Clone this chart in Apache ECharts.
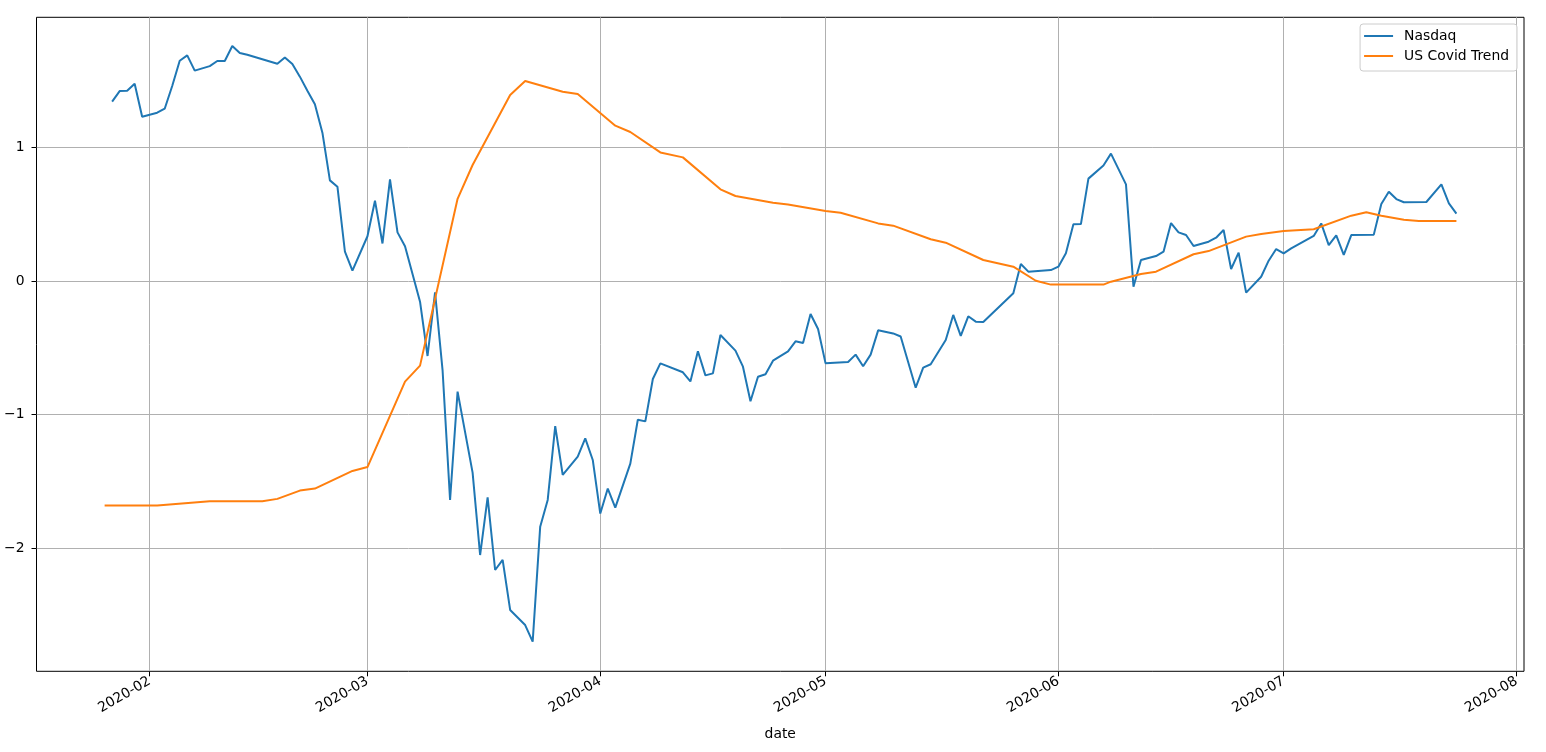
<!DOCTYPE html>
<html>
<head>
<meta charset="utf-8">
<title>Nasdaq vs US Covid Trend</title>
<script src="https://cdn.jsdelivr.net/npm/echarts@6/dist/echarts.min.js"></script>
<style>
  html, body { margin: 0; padding: 0; background: #fff; }
  #chart { width: 1546px; height: 752px; }
</style>
</head>
<body>
<div id="chart"></div>
<script>
// normalised Nasdaq close
var nasdaqDates = [
  '2020-01-27','2020-01-28','2020-01-29','2020-01-30','2020-01-31','2020-02-02','2020-02-03','2020-02-04',
  '2020-02-05','2020-02-06','2020-02-07','2020-02-08','2020-02-09','2020-02-10','2020-02-11','2020-02-12',
  '2020-02-13','2020-02-14','2020-02-18','2020-02-19','2020-02-20','2020-02-21','2020-02-22','2020-02-23',
  '2020-02-24','2020-02-25','2020-02-26','2020-02-27','2020-02-28','2020-03-01','2020-03-02','2020-03-03',
  '2020-03-04','2020-03-05','2020-03-06','2020-03-08','2020-03-09','2020-03-10','2020-03-11','2020-03-12',
  '2020-03-13','2020-03-15','2020-03-16','2020-03-17','2020-03-18','2020-03-19','2020-03-20','2020-03-22',
  '2020-03-23','2020-03-24','2020-03-25','2020-03-26','2020-03-27','2020-03-29','2020-03-30','2020-03-31',
  '2020-04-01','2020-04-02','2020-04-03','2020-04-05','2020-04-06','2020-04-07','2020-04-08','2020-04-09',
  '2020-04-12','2020-04-13','2020-04-14','2020-04-15','2020-04-16','2020-04-17','2020-04-19','2020-04-20',
  '2020-04-21','2020-04-22','2020-04-23','2020-04-24','2020-04-26','2020-04-27','2020-04-28','2020-04-29',
  '2020-04-30','2020-05-01','2020-05-04','2020-05-05','2020-05-06','2020-05-07','2020-05-08','2020-05-10',
  '2020-05-11','2020-05-13','2020-05-14','2020-05-15','2020-05-17','2020-05-18','2020-05-19','2020-05-20',
  '2020-05-21','2020-05-22','2020-05-26','2020-05-27','2020-05-28','2020-05-31','2020-06-01','2020-06-02',
  '2020-06-03','2020-06-04','2020-06-05','2020-06-07','2020-06-08','2020-06-10','2020-06-11','2020-06-12',
  '2020-06-14','2020-06-15','2020-06-16','2020-06-17','2020-06-18','2020-06-19','2020-06-21','2020-06-22',
  '2020-06-23','2020-06-24','2020-06-25','2020-06-26','2020-06-28','2020-06-29','2020-06-30','2020-07-01',
  '2020-07-02','2020-07-05','2020-07-06','2020-07-07','2020-07-08','2020-07-09','2020-07-10','2020-07-13',
  '2020-07-14','2020-07-15','2020-07-16','2020-07-17','2020-07-20','2020-07-22','2020-07-23','2020-07-24'
];
var nasdaqValues = [
  1.342, 1.421, 1.424, 1.476, 1.229, 1.259, 1.289, 1.459,
  1.648, 1.688, 1.574, 1.591, 1.608, 1.646, 1.646, 1.758,
  1.706, 1.693, 1.626, 1.673, 1.623, 1.529, 1.424, 1.322,
  1.110, 0.753, 0.706, 0.219, 0.077, 0.335, 0.601, 0.281,
  0.760, 0.364, 0.260, -0.155, -0.561, -0.085, -0.666, -1.638,
  -0.828, -1.434, -2.050, -1.618, -2.162, -2.087, -2.461, -2.574,
  -2.698, -1.838, -1.638, -1.085, -1.451, -1.314, -1.177, -1.339,
  -1.740, -1.553, -1.695, -1.366, -1.038, -1.050, -0.733, -0.616,
  -0.683, -0.751, -0.526, -0.706, -0.691, -0.404, -0.521, -0.641,
  -0.900, -0.716, -0.698, -0.596, -0.526, -0.451, -0.464, -0.247,
  -0.359, -0.616, -0.606, -0.551, -0.638, -0.551, -0.369, -0.392,
  -0.415, -0.798, -0.648, -0.623, -0.441, -0.254, -0.411, -0.264,
  -0.304, -0.307, -0.092, 0.127, 0.070, 0.082, 0.107, 0.207,
  0.424, 0.426, 0.766, 0.864, 0.953, 0.723, -0.042, 0.157,
  0.187, 0.219, 0.434, 0.364, 0.344, 0.262, 0.294, 0.324,
  0.382, 0.090, 0.212, -0.087, 0.032, 0.152, 0.239, 0.207,
  0.244, 0.337, 0.431, 0.269, 0.342, 0.195, 0.344, 0.347,
  0.576, 0.668, 0.613, 0.589, 0.591, 0.723, 0.581, 0.504
];

// normalised US covid trend
var covidDates = [
  '2020-01-26','2020-02-02','2020-02-09','2020-02-16','2020-02-18','2020-02-21','2020-02-23','2020-02-28',
  '2020-03-01','2020-03-06','2020-03-08','2020-03-13','2020-03-15','2020-03-20','2020-03-22','2020-03-27',
  '2020-03-29','2020-04-03','2020-04-05','2020-04-09','2020-04-12','2020-04-17','2020-04-19','2020-04-24',
  '2020-04-26','2020-05-01','2020-05-03','2020-05-08','2020-05-10','2020-05-15','2020-05-17','2020-05-22',
  '2020-05-26','2020-05-29','2020-05-31','2020-06-07','2020-06-08','2020-06-12','2020-06-14','2020-06-19',
  '2020-06-21','2020-06-26','2020-06-28','2020-07-01','2020-07-05','2020-07-10','2020-07-12','2020-07-14',
  '2020-07-17','2020-07-19','2020-07-24'
];
var covidValues = [
  -1.680, -1.680, -1.648, -1.648, -1.630, -1.568, -1.553, -1.421,
  -1.392, -0.753, -0.633, 0.615, 0.868, 1.391, 1.496, 1.416,
  1.399, 1.162, 1.115, 0.962, 0.925, 0.686, 0.636, 0.586,
  0.573, 0.524, 0.511, 0.431, 0.414, 0.312, 0.287, 0.157,
  0.107, 0.002, -0.027, -0.027, -0.005, 0.052, 0.070, 0.200,
  0.224, 0.332, 0.352, 0.374, 0.387, 0.489, 0.514, 0.489,
  0.459, 0.449, 0.449
];

var monthTicks = ['2020-02-01','2020-03-01','2020-04-01','2020-05-01','2020-06-01','2020-07-01','2020-08-01'];
var yTicks = [-2, -1, 0, 1];

var DAY = 86400000;
function toTime(s) {
  var p = s.split('-');
  return Date.UTC(+p[0], +p[1] - 1, +p[2]);
}
function pairs(dates, values) {
  return dates.map(function (d, i) { return [toTime(d), values[i]]; });
}

var font = '"DejaVu Sans", sans-serif';
var myChart = echarts.init(document.getElementById('chart'), null, { renderer: 'canvas' });

var option = {
  animation: false,
  backgroundColor: '#ffffff',
  textStyle: { fontFamily: font },
  grid: {
    show: true,
    left: 36.5,
    top: 17.3,
    right: 22,
    bottom: 80.7,
    borderColor: '#000000',
    borderWidth: 1,
    containLabel: false,
    outerBoundsMode: 'none'
  },
  legend: {
    orient: 'vertical',
    right: 29,
    top: 24,
    icon: 'rect',
    itemWidth: 29,
    itemHeight: 2,
    itemGap: 4,
    padding: [4, 8, 7, 4],
    borderColor: '#cccccc',
    borderWidth: 1,
    borderRadius: 3,
    backgroundColor: 'rgba(255,255,255,0.8)',
    textStyle: { fontFamily: font, fontSize: 13.9, color: '#000', lineHeight: 16, padding: [0, 0, 0, 6] },
    data: ['Nasdaq', 'US Covid Trend']
  },
  xAxis: {
    type: 'value',
    min: toTime('2020-02-01') - 15.07 * DAY,
    max: toTime('2020-08-01') + 1.0 * DAY,
    name: 'date',
    nameLocation: 'middle',
    nameGap: 56,
    nameTextStyle: { fontFamily: font, fontSize: 13.9, color: '#000' },
    axisLine: { show: false, onZero: false },
    axisTick: {
      show: true, inside: false, length: 5,
      lineStyle: { color: '#000', width: 1 },
      customValues: monthTicks.map(toTime)
    },
    axisLabel: {
      rotate: 30,
      margin: 9,
      fontFamily: font,
      fontSize: 13.9,
      color: '#000',
      customValues: monthTicks.map(toTime),
      formatter: function (v) {
        var d = new Date(v);
        var m = d.getUTCMonth() + 1;
        return d.getUTCFullYear() + '-' + (m < 10 ? '0' + m : m);
      }
    },
    splitLine: { show: true, lineStyle: { color: '#b0b0b0', width: 1 } }
  },
  yAxis: {
    type: 'value',
    min: -2.920,
    max: 1.973,
    axisLine: { show: false, onZero: false },
    axisTick: {
      show: true, inside: false, length: 5,
      lineStyle: { color: '#000', width: 1 },
      customValues: yTicks
    },
    axisLabel: {
      margin: 12,
      fontFamily: font,
      fontSize: 13.9,
      color: '#000',
      customValues: yTicks,
      formatter: function (v) { return String(v).replace('-', '\u2212'); }
    },
    splitLine: { show: true, lineStyle: { color: '#b0b0b0', width: 1 } }
  },
  series: [
    {
      name: 'Nasdaq',
      type: 'line',
      showSymbol: false,
      symbol: 'none',
      lineStyle: { color: '#1f77b4', width: 2 },
      itemStyle: { color: '#1f77b4' },
      data: pairs(nasdaqDates, nasdaqValues)
    },
    {
      name: 'US Covid Trend',
      type: 'line',
      showSymbol: false,
      symbol: 'none',
      lineStyle: { color: '#ff7f0e', width: 2 },
      itemStyle: { color: '#ff7f0e' },
      data: pairs(covidDates, covidValues)
    }
  ]
};

myChart.setOption(option);
</script>
</body>
</html>
